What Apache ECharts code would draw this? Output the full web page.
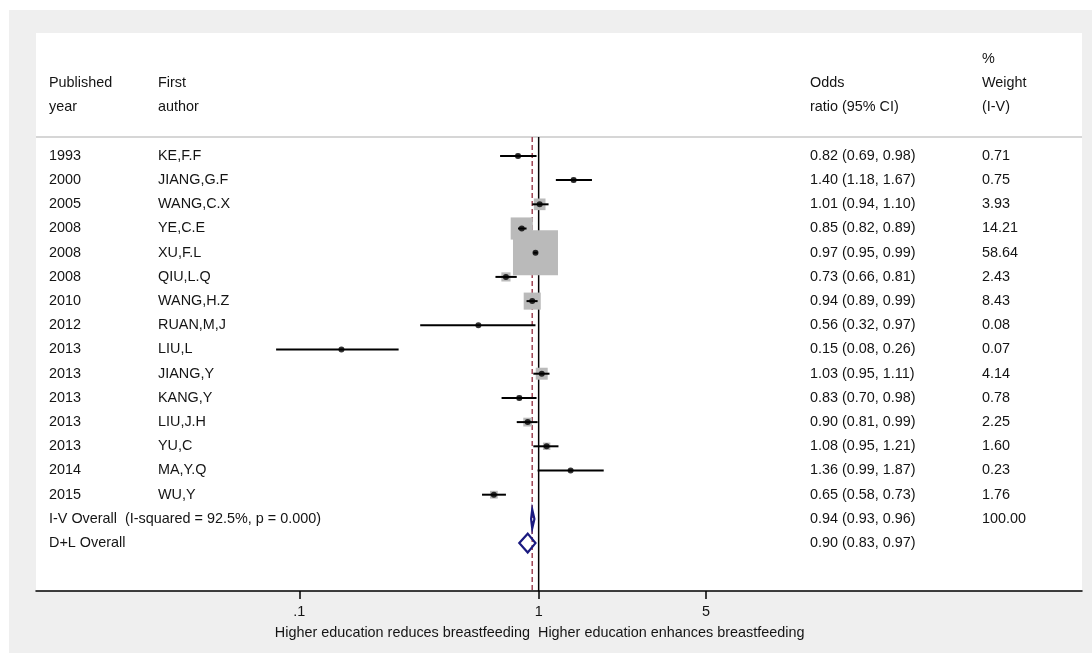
<!DOCTYPE html>
<html>
<head>
<meta charset="utf-8">
<script src="https://cdn.jsdelivr.net/npm/echarts@6/dist/echarts.min.js"></script>
<style>
html,body{margin:0;padding:0;background:#fff;}
#chart{width:1092px;height:661px;}
</style>
</head>
<body>
<div id="chart"></div>
<script>
// ---- data ----
const years = ['1993','2000','2005','2008','2008','2008','2010','2012','2013','2013','2013','2013','2013','2014','2015'];
const authors = ['KE,F.F','JIANG,G.F','WANG,C.X','YE,C.E','XU,F.L','QIU,L.Q','WANG,H.Z','RUAN,M,J','LIU,L','JIANG,Y','KANG,Y','LIU,J.H','YU,C','MA,Y.Q','WU,Y'];
const oddsRatio = [0.82,1.40,1.01,0.85,0.97,0.73,0.94,0.56,0.15,1.03,0.83,0.90,1.08,1.36,0.65];
const ciLow    = [0.69,1.18,0.94,0.82,0.95,0.66,0.89,0.32,0.08,0.95,0.70,0.81,0.95,0.99,0.58];
const ciHigh   = [0.98,1.67,1.10,0.89,0.99,0.81,0.99,0.97,0.26,1.11,0.98,0.99,1.21,1.87,0.73];
const weights  = [0.71,0.75,3.93,14.21,58.64,2.43,8.43,0.08,0.07,4.14,0.78,2.25,1.60,0.23,1.76];
const pooledLabels = ['I-V Overall  (I-squared = 92.5%, p = 0.000)', 'D+L Overall'];
const pooledOR   = [0.94, 0.90];
const pooledLow  = [0.93, 0.83];
const pooledHigh = [0.96, 0.97];
const pooledWeight = ['100.00', ''];
const headerRows = [
  ['', '', '', '%'],
  ['Published', 'First', 'Odds', 'Weight'],
  ['year', 'author', 'ratio (95% CI)', '(I-V)']
];
const tickValues = [0.1, 1, 5];
const tickLabels = ['.1', '1', '5'];
const favourLeft = 'Higher education reduces breastfeeding';
const favourRight = 'Higher education enhances breastfeeding';

// ---- layout ----
const FONT_FAMILY = '"Liberation Sans", Arial, Helvetica, sans-serif';
const FONT_SIZE = 14.4;
const FONT = FONT_SIZE + 'px ' + FONT_FAMILY;
const TXT = '#141414';
const colX = [49, 158, 810, 982];
const Y_MIN = -5.08, Y_MAX = 17.98;
const HEADER_LINE_ROW = -0.78;
const MAX_SIDE = 45;
const nStudies = years.length;
const maxW = Math.max(...weights);
const lg = v => Math.log10(v);
const f2 = v => v.toFixed(2);

// table rows: [row, c0, c1, c2, c3]
const tableRows = [];
headerRows.forEach((h, i) => tableRows.push([i - 4].concat(h)));
for (let i = 0; i < nStudies; i++) {
  tableRows.push([i, years[i], authors[i], f2(oddsRatio[i]) + ' (' + f2(ciLow[i]) + ', ' + f2(ciHigh[i]) + ')', f2(weights[i])]);
}
pooledLabels.forEach((lab, k) => {
  tableRows.push([nStudies + k, lab, '', f2(pooledOR[k]) + ' (' + f2(pooledLow[k]) + ', ' + f2(pooledHigh[k]) + ')', pooledWeight[k]]);
});

const chart = echarts.init(document.getElementById('chart'), null, {renderer: 'canvas'});

function txt(x, y, s, align) {
  return {type: 'text', x: x, y: y, style: {text: s, font: FONT, fill: TXT, align: align || 'left', verticalAlign: 'middle'}};
}

const option = {
  animation: false,
  backgroundColor: '#ffffff',
  graphic: {
    elements: [
      {type: 'rect', z: -20, shape: {x: 9, y: 10, width: 1083, height: 643}, style: {fill: '#efefef'}},
      {type: 'rect', z: -19, shape: {x: 36, y: 33, width: 1046, height: 558}, style: {fill: '#ffffff'}},
      {type: 'rect', z: -18, shape: {x: 36, y: 136, width: 1046, height: 2}, style: {fill: '#d6d6d6'}},
      {type: 'text', z: 5, x: 530, y: 633, style: {text: favourLeft, font: FONT, fill: TXT, align: 'right', verticalAlign: 'middle'}},
      {type: 'text', z: 5, x: 538, y: 633, style: {text: favourRight, font: FONT, fill: TXT, align: 'left', verticalAlign: 'middle'}}
    ]
  },
  grid: {left: 36, top: 33, width: 1046, height: 558, show: false, containLabel: false},
  xAxis: {
    type: 'value',
    min: -2.10, max: 2.27,
    splitLine: {show: false},
    axisLine: {show: true, onZero: false, lineStyle: {color: '#000', width: 1.5}},
    axisTick: {show: true, length: 8, lineStyle: {color: '#000', width: 1.5}, customValues: tickValues.map(lg)},
    axisLabel: {
      show: true, margin: 14, color: TXT, fontSize: FONT_SIZE,
      fontFamily: FONT_FAMILY,
      customValues: tickValues.map(lg),
      formatter: function (v) {
        const i = tickValues.findIndex(t => Math.abs(lg(t) - v) < 1e-6);
        return i >= 0 ? tickLabels[i] : '';
      }
    }
  },
  yAxis: {type: 'value', min: Y_MIN, max: Y_MAX, inverse: true, show: false,
          axisLine: {onZero: false}, splitLine: {show: false}},
  series: [
    // reference lines (null and pooled I-V)
    {
      type: 'custom', z: 1, silent: true, clip: false,
      data: [[lg(1), 0], [lg(pooledOR[0]), 1]],
      renderItem: function (params, api) {
        const x = api.value(0);
        const a = api.coord([x, HEADER_LINE_ROW]);
        const b = api.coord([x, Y_MAX]);
        const dashed = api.value(1) === 1;
        return {
          type: 'line',
          shape: {x1: a[0], y1: a[1], x2: b[0], y2: b[1]},
          style: dashed ? {stroke: '#a04455', lineWidth: 1.5, lineDash: [5, 3]}
                        : {stroke: '#000', lineWidth: 1.5}
        };
      }
    },
    // weight squares
    {
      type: 'custom', z: 2, silent: true,
      data: oddsRatio.map((v, i) => [lg(v), i, weights[i]]),
      renderItem: function (params, api) {
        const c = api.coord([api.value(0), api.value(1)]);
        const s = MAX_SIDE * Math.sqrt(api.value(2) / maxW);
        return {type: 'rect', shape: {x: c[0] - s / 2, y: c[1] - s / 2, width: s, height: s},
                style: {fill: '#bababa'}};
      }
    },
    // confidence intervals
    {
      type: 'custom', z: 3, silent: true,
      data: ciLow.map((v, i) => [lg(v), lg(ciHigh[i]), i]),
      renderItem: function (params, api) {
        const a = api.coord([api.value(0), api.value(2)]);
        const b = api.coord([api.value(1), api.value(2)]);
        return {type: 'line', shape: {x1: a[0], y1: a[1], x2: b[0], y2: b[1]},
                style: {stroke: '#000', lineWidth: 2}};
      }
    },
    // point estimates
    {
      type: 'scatter', z: 4, silent: true,
      symbol: 'circle', symbolSize: 6,
      itemStyle: {color: '#000'},
      data: oddsRatio.map((v, i) => [lg(v), i])
    },
    // pooled diamonds
    {
      type: 'custom', z: 4, silent: true,
      data: pooledOR.map((v, k) => [lg(pooledLow[k]), lg(v), lg(pooledHigh[k]), nStudies + k]),
      renderItem: function (params, api) {
        const r = api.value(3);
        const h = 0.39;
        const p1 = api.coord([api.value(0), r]);
        const p2 = api.coord([api.value(1), r - h]);
        const p3 = api.coord([api.value(2), r]);
        const p4 = api.coord([api.value(1), r + h]);
        return {type: 'polygon', shape: {points: [p1, p2, p3, p4]},
                style: {fill: 'none', stroke: '#1a1a80', lineWidth: 2.2, lineJoin: 'miter'}};
      }
    },
    // table text
    {
      type: 'custom', z: 5, silent: true, clip: false,
      data: tableRows.map(r => [0, r[0]]),
      renderItem: function (params, api) {
        const row = tableRows[params.dataIndex];
        const y = api.coord([0, row[0]])[1];
        const children = [];
        for (let c = 0; c < 4; c++) {
          if (row[c + 1]) children.push(txt(colX[c], y, row[c + 1]));
        }
        return {type: 'group', children: children};
      }
    }
  ]
};
chart.setOption(option);
</script>
</body>
</html>
